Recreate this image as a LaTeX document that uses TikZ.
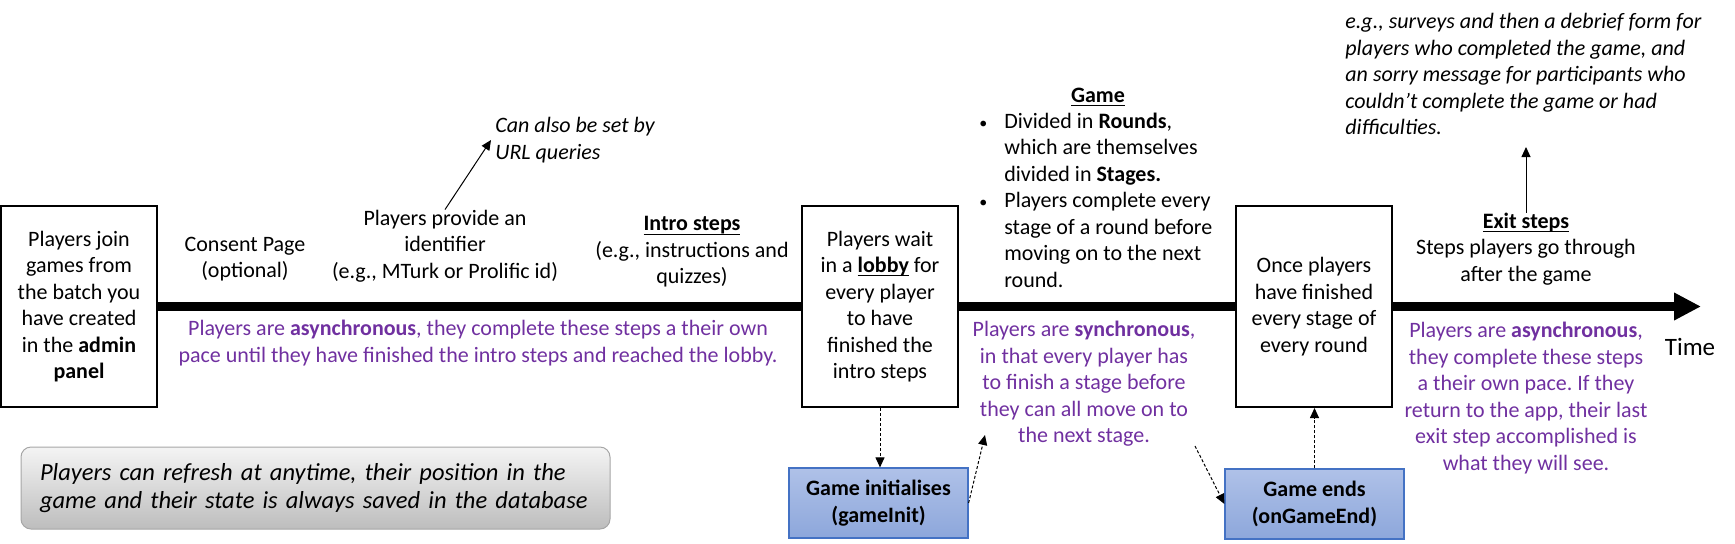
\documentclass[tikz,border=0pt]{standalone}
\usepackage{fontspec}
\setmainfont{Carlito}
\usepackage{xcolor}
\usetikzlibrary{arrows.meta, positioning}

\definecolor{phasepurple}{HTML}{7030A0}
\definecolor{hooktop}{HTML}{AFC1E8}
\definecolor{hookbot}{HTML}{8DA7DB}
\definecolor{hookline}{HTML}{4472C4}
\definecolor{tiptop}{HTML}{F4F4F4}
\definecolor{tipbot}{HTML}{BDBDBD}
\definecolor{tipline}{HTML}{A6A6A6}

% bold text with a close underline
\newcommand{\headul}[1]{\setbox0\hbox{\textbf{#1}}\rlap{\rule[-1.9pt]{\wd0}{0.55pt}}\box0\relax}
\frenchspacing

\begin{document}
\begin{tikzpicture}[
			x=0.5pt, y=-0.5pt,
			every node/.style={font=\fontsize{11}{13.25}\selectfont, inner sep=0pt},
			phase/.style={
				rectangle, draw, line width=1pt,
				align=center, minimum width=78pt, minimum height=100.5pt
			},
			note/.style={align=center},
			asyncnote/.style={align=center, text=phasepurple},
			hook/.style={
				rectangle, draw=hookline, line width=0.6pt,
				top color=hooktop, bottom color=hookbot,
				align=center, minimum width=89.5pt, minimum height=35pt,
				font=\fontsize{11}{13.25}\selectfont\bfseries
			},
			timeline/.style={
				-{Triangle[length=13.5pt,width=13pt]},
				line width=4.5pt
			},
			arrow/.style={
				-{Triangle[length=5pt,width=4.5pt]},
				line width=0.5pt
			},
			dasharrow/.style={arrow, dash pattern=on 1.5pt off 1pt}
			]
			\useasboundingbox (0,0) rectangle (1735,543);
			
			% the three phase boxes on the time line
			\node[phase] (join) at (79,306.5) {Players join\\games from\\the batch you\\have created\\in the \textbf{admin}\\\textbf{panel}};
			\node[phase] (lobby) at (880,306.5) {Players wait\\in a \headul{lobby} for\\every player\\to have\\finished the\\intro steps};
			\node[phase] (finish) at (1314,306.5) {Once players\\have finished\\every stage of\\every round};
			\coordinate (tip) at (1701,306.5);
			
			% before the lobby
			\node[note] (consent) at (245,259) {Consent Page\\(optional)};
			\node[note] (ident) at (445,246) {Players provide an\\identifier\\(e.g., MTurk or Prolific id)};
			\node[align=left, anchor=west, font=\fontsize{11}{13.25}\selectfont\itshape] (urlnote) at (495,140) {Can also be set by\\URL queries};
			\node[note] (intro) at (692,252) {\headul{Intro steps}\\(e.g., instructions and\\quizzes)};
			\node[asyncnote] (async1) at (478,343) {Players are \textbf{asynchronous}, they complete these steps a their own\\pace until they have finished the intro steps and reached the lobby.};
			
			% game
			\node[note] (game) at (1098,97) {\headul{Game}};
			\node[align=left, anchor=west] (rules) at (979,202.5) {%
				\begin{tabular}{@{}l@{\hspace{8.5pt}}l@{}}
					{\footnotesize\textbullet} & Divided in \textbf{Rounds},\\
					& which are themselves\\
					& divided in \textbf{Stages.}\\
					{\footnotesize\textbullet} & Players complete every\\
					& stage of a round before\\
					& moving on to the next\\
					& round.
				\end{tabular}};
			\node[asyncnote] (sync) at (1084,384) {Players are \textbf{synchronous},\\in that every player has\\to finish a stage before\\they can all move on to\\the next stage.};
			
			% after the game
			\node[note] (exit) at (1526,249) {\headul{Exit steps}\\Steps players go through\\after the game};
			\node[align=left, anchor=west, font=\fontsize{11}{13.25}\selectfont\itshape] (debrief) at (1345,74) {e.g., surveys and then a debrief form for\\players who completed the game, and\\an sorry message for participants who\\couldn’t complete the game or had\\difficulties.};
			\node[asyncnote] (async2) at (1526,398) {Players are \textbf{asynchronous},\\they complete these steps\\a their own pace. If they\\return to the app, their last\\exit step accomplished is\\what they will see.};
			\node[font=\fontsize{12.5}{15}\selectfont] (time) at (1690,347) {Time};
			
			% hooks
			\node[hook] (init) at (878.5,503) {Game initialises\\(gameInit)};
			\node[hook] (gameend) at (1314.5,504) {Game ends\\(onGameEnd)};
			\coordinate (syncin) at (985,435);
			\coordinate (syncout) at (1195,446);
			\coordinate (debriefin) at (1526,147);
			
			\node[rectangle, rounded corners=5pt, draw=tipline, line width=0.5pt,
				top color=tiptop, bottom color=tipbot,
				align=left, text width=275.5pt, inner xsep=9.5pt, minimum height=41pt,
				font=\fontsize{12.25}{14}\selectfont\itshape] (refresh) at (315.5,488)
				{Players can refresh at anytime, their position in the\\game and their state is always saved in the database};
			
			\draw[line width=4.5pt] (join.east) -- (lobby.west);
			\draw[line width=4.5pt] (lobby.east) -- (finish.west);
			\draw[timeline] (finish.east) -- (tip);
			
			\draw[arrow] (ident.north) -- ([xshift=-2pt]urlnote.west);
			\draw[arrow] (exit.north) -- (debriefin);
			\draw[dasharrow] (lobby.south) -- (lobby.south |- init.north);
			\draw[dasharrow] (init.east) -- (syncin);
			\draw[dasharrow] (syncout) -- (gameend.west);
			\draw[dasharrow] (gameend.north) -- (gameend.north |- finish.south);
		\end{tikzpicture}
\end{document}
